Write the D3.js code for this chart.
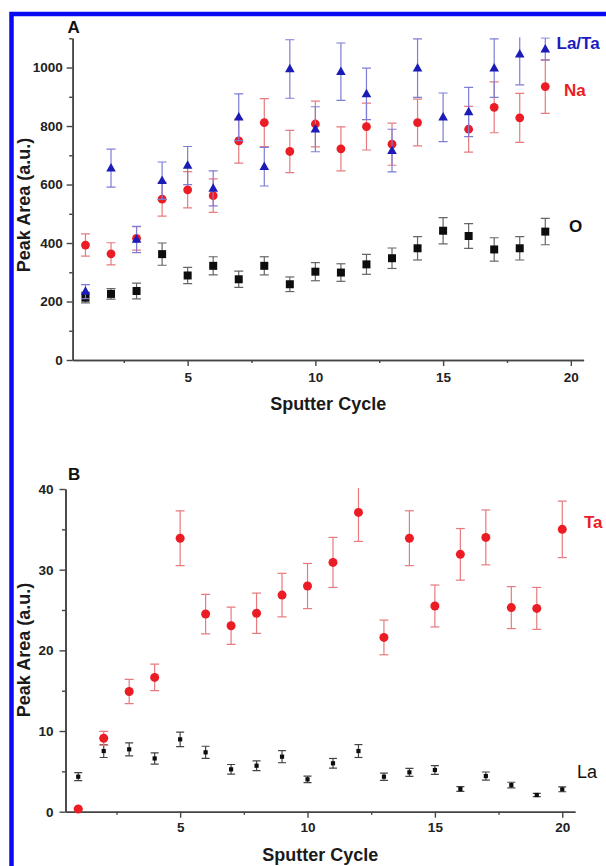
<!DOCTYPE html>
<html>
<head>
<meta charset="utf-8">
<script src="https://cdn.jsdelivr.net/npm/d3@7"></script>
<style>
  body { margin: 0; background: #fff; }
  svg { display: block; }
  text { font-family: "Liberation Sans", Arial, sans-serif; }
</style>
</head>
<body>
<svg id="fig" width="606" height="866"></svg>
<script>
// panel A: sputter cycles 1..19 (Na at cycle 15 sits under the La/Ta triangle, not visible)
var cyclesA = [1, 2, 3, 4, 5, 6, 7, 8, 9, 10, 11, 12, 13, 14, 15, 16, 17, 18, 19];
var oA = [213, 226, 236, 362, 289, 322, 276, 322, 259, 302, 299, 327, 348, 382, 442, 424, 378, 382, 439];
var oErrA = [18, 18, 27, 38, 28, 31, 28, 31, 25, 31, 30, 34, 35, 40, 45, 42, 40, 40, 45];
var naA = [393, 363, 416, 550, 582, 562, 749, 812, 713, 807, 722, 798, 738, 812, null, 789, 864, 828, 935];
var naErrA = [38, 38, 40, 58, 62, 57, 76, 82, 72, 78, 75, 80, 72, 80, null, 78, 87, 84, 92];
var laTaA = [234, 656, 412, 613, 665, 587, 830, 661, 995, 789, 986, 910, 716, 998, 830, 848, 998, 1046, 1063];
var laTaErrA = [24, 65, 45, 64, 65, 60, 80, 66, 100, 77, 98, 88, 73, 100, 83, 84, 100, 105, 38];

// panel B: sputter cycles 1..20
var cyclesB = [1, 2, 3, 4, 5, 6, 7, 8, 9, 10, 11, 12, 13, 14, 15, 16, 17, 18, 19, 20];
var taB = [0.33, 9.1, 14.9, 16.65, 33.9, 24.5, 23.05, 24.6, 26.85, 27.97, 30.9, 37.1, 21.6, 33.9, 25.5, 31.9, 34.0, 25.3, 25.2, 35.0];
var taErrB = [0, 0.85, 1.5, 1.65, 3.4, 2.45, 2.3, 2.5, 2.7, 2.8, 3.1, 3.6, 2.15, 3.4, 2.6, 3.2, 3.4, 2.6, 2.6, 3.5];
var laB = [4.34, 7.52, 7.73, 6.6, 8.97, 7.36, 5.25, 5.7, 6.82, 4.01, 6.0, 7.52, 4.34, 4.88, 5.17, 2.81, 4.42, 3.3, 2.07, 2.77];
var laErrB = [0.5, 0.8, 0.8, 0.7, 0.9, 0.75, 0.6, 0.6, 0.75, 0.4, 0.6, 0.8, 0.45, 0.5, 0.55, 0.3, 0.5, 0.35, 0.2, 0.3];

// ticks
var xMajor = [5, 10, 15, 20];
var xMinor = [2.5, 7.5, 12.5, 17.5];
var yMajorA = [0, 200, 400, 600, 800, 1000];
var yMinorA = [100, 300, 500, 700, 900, 1100];
var yMajorB = [0, 10, 20, 30, 40];
var yMinorB = [5, 15, 25, 35];

var svg = d3.select("#fig");

// blue frame, runs off the right and bottom edges
svg.append("rect")
    .attr("x", 11.5).attr("y", 14)
    .attr("width", 700).attr("height", 900)
    .attr("fill", "none")
    .attr("stroke", "#0a0af2")
    .attr("stroke-width", 4.5);

var zip = function(xs, vs, es) {
    return xs.map(function(c, i) {
        return {c: c, v: vs[i], e: es[i]};
    }).filter(function(d) { return d.v != null; });
};

var styleAxis = function(g) {
    g.select(".domain").attr("stroke", "#444").attr("stroke-width", 1.6);
    g.selectAll(".tick line").attr("stroke", "#444").attr("stroke-width", 1.4);
    g.selectAll(".tick text")
        .attr("fill", "#222")
        .attr("font-size", 13.5)
        .attr("font-weight", "bold")
        .attr("font-family", "'Liberation Sans', Arial, sans-serif");
};

var drawPanel = function(p) {
    var x = d3.scaleLinear().domain([0.5, 20.5]).range(p.xRange);
    var y = d3.scaleLinear().domain(p.yDomain).range(p.yRange);
    var g = svg.append("g");
    var fmt = d3.format("d");

    // minor ticks first, then major axes
    g.append("g").attr("transform", "translate(0," + p.yRange[0] + ")")
        .call(d3.axisBottom(x).tickValues(xMinor).tickSize(3).tickFormat("").tickSizeOuter(0))
        .call(styleAxis);
    g.append("g").attr("transform", "translate(" + p.xRange[0] + ",0)")
        .call(d3.axisLeft(y).tickValues(p.yMinor).tickSize(3.5).tickFormat("").tickSizeOuter(0))
        .call(styleAxis);
    g.append("g").attr("transform", "translate(0," + p.yRange[0] + ")")
        .call(d3.axisBottom(x).tickValues(xMajor).tickFormat(fmt).tickSize(6).tickPadding(p.xPad).tickSizeOuter(0))
        .call(styleAxis);
    g.append("g").attr("transform", "translate(" + p.xRange[0] + ",0)")
        .call(d3.axisLeft(y).tickValues(p.yMajor).tickFormat(fmt).tickSize(6).tickPadding(p.yPad).tickSizeOuter(0))
        .call(styleAxis);

    var clipId = "clip" + p.name;
    g.append("clipPath").attr("id", clipId)
        .append("rect")
        .attr("x", p.xRange[0]).attr("y", p.yRange[1] - 1)
        .attr("width", p.xRange[1] - p.xRange[0])
        .attr("height", p.yRange[0] - p.yRange[1] + 6);

    var plot = g.append("g").attr("clip-path", "url(#" + clipId + ")");

    p.series.forEach(function(s) {
        var sg = plot.append("g");
        var pts = sg.selectAll("g.pt").data(s.data).enter().append("g")
            .attr("class", "pt")
            .attr("transform", function(d) { return "translate(" + x(d.c) + ",0)"; });

        // error bars
        pts.append("line")
            .attr("y1", function(d) { return y(d.v - d.e); })
            .attr("y2", function(d) { return y(d.v + d.e); })
            .attr("stroke", s.errColor).attr("stroke-width", 1.2);
        pts.append("line")
            .attr("x1", -s.cap).attr("x2", s.cap)
            .attr("y1", function(d) { return y(d.v + d.e); })
            .attr("y2", function(d) { return y(d.v + d.e); })
            .attr("stroke", s.errColor).attr("stroke-width", 1.2);
        pts.append("line")
            .attr("x1", -s.cap).attr("x2", s.cap)
            .attr("y1", function(d) { return y(d.v - d.e); })
            .attr("y2", function(d) { return y(d.v - d.e); })
            .attr("stroke", s.errColor).attr("stroke-width", 1.2);

        // markers
        if (s.shape == "square") {
            pts.append("rect")
                .attr("x", -s.size / 2).attr("width", s.size).attr("height", s.size)
                .attr("y", function(d) { return y(d.v) - s.size / 2; })
                .attr("fill", s.color);
        } else if (s.shape == "circle") {
            pts.append("circle")
                .attr("cy", function(d) { return y(d.v); })
                .attr("r", s.size)
                .attr("fill", s.color);
        } else {
            pts.append("path")
                .attr("d", "M0,-5.2L4.8,3.3L-4.8,3.3Z")
                .attr("transform", function(d) { return "translate(0," + y(d.v) + ")"; })
                .attr("fill", s.color);
        }
    });

    // panel letter
    svg.append("text").attr("x", p.letterPos[0]).attr("y", p.letterPos[1])
        .attr("font-size", 17).attr("font-weight", "bold").attr("fill", "#111")
        .text(p.name);

    // axis titles
    svg.append("text")
        .attr("x", (p.xRange[0] + p.xRange[1]) / 2).attr("y", p.xTitleY)
        .attr("text-anchor", "middle")
        .attr("font-size", 18).attr("font-weight", "bold").attr("fill", "#1a1a1a")
        .text("Sputter Cycle");
    svg.append("text")
        .attr("transform", "translate(29.5," + p.yTitleY + ") rotate(-90)")
        .attr("text-anchor", "middle")
        .attr("font-size", 18).attr("font-weight", "bold").attr("fill", "#1a1a1a")
        .text("Peak Area (a.u.)");

    // series labels
    p.labels.forEach(function(l) {
        svg.append("text").attr("x", l.x).attr("y", l.y)
            .attr("font-size", l.size).attr("font-weight", l.weight)
            .attr("fill", l.color)
            .text(l.text);
    });
};

drawPanel({
    name: "A",
    xRange: [72.7, 583.6],
    yRange: [360, 38.3],
    yDomain: [0, 1100],
    yMajor: yMajorA, yMinor: yMinorA,
    xPad: 6, yPad: 4,
    letterPos: [67.5, 33],
    xTitleY: 409.5,
    yTitleY: 205,
    series: [
        {data: zip(cyclesA, oA, oErrA), shape: "square", size: 8, cap: 4.5, color: "#0d0d0d", errColor: "#666"},
        {data: zip(cyclesA, naA, naErrA), shape: "circle", size: 4.4, cap: 4.5, color: "#ec1c24", errColor: "#e77a7e"},
        {data: zip(cyclesA, laTaA, laTaErrA), shape: "triangle", size: 9, cap: 4.5, color: "#1b1bb8", errColor: "#7d7dd6"}
    ],
    labels: [
        {text: "La/Ta", x: 556.5, y: 48.7, size: 17, weight: "bold", color: "#1b1bc0"},
        {text: "Na", x: 564, y: 96, size: 17, weight: "bold", color: "#ec1c24"},
        {text: "O", x: 569, y: 231.7, size: 17, weight: "bold", color: "#111"}
    ]
});

drawPanel({
    name: "B",
    xRange: [65.5, 575],
    yRange: [811.7, 489],
    yDomain: [0, 40],
    yMajor: yMajorB, yMinor: yMinorB,
    xPad: 5, yPad: 6,
    letterPos: [68, 480],
    xTitleY: 861,
    yTitleY: 650,
    series: [
        {data: zip(cyclesB, laB, laErrB), shape: "square", size: 4.2, cap: 4, color: "#0d0d0d", errColor: "#444"},
        {data: zip(cyclesB, taB, taErrB), shape: "circle", size: 4.5, cap: 4.5, color: "#ec1c24", errColor: "#e77a7e"}
    ],
    labels: [
        {text: "Ta", x: 584, y: 528, size: 17, weight: "bold", color: "#ec1c24"},
        {text: "La", x: 577, y: 778, size: 18, weight: "normal", color: "#111"}
    ]
});
</script>
</body>
</html>
